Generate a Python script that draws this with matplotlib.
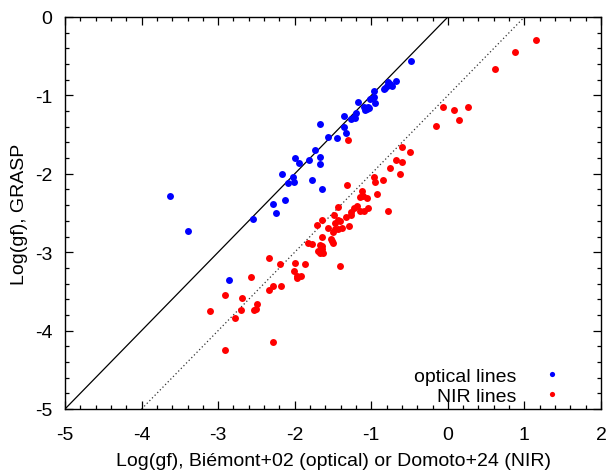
import matplotlib
matplotlib.use("Agg")
import matplotlib.pyplot as plt
from matplotlib.ticker import MultipleLocator

plt.rcParams['font.family'] = ['Liberation Sans', 'DejaVu Sans']
plt.rcParams['axes.unicode_minus'] = False

opt_x = [-0.485, -0.68, -0.78, -0.76, -0.80, -0.84, -0.73, -0.82, -0.97, -0.96,
         -1.02, -0.95, -1.18, -1.10, -1.06, -1.04, -1.08, -1.03, -1.20, -1.23,
         -1.26, -1.21, -1.36, -1.36, -1.33, -1.67, -1.57, -1.45, -1.73, -1.99,
         -1.94, -1.81, -1.67, -1.67, -2.16, -2.02, -2.09, -2.01, -1.77, -1.64,
         -2.28, -2.13, -2.25, -2.54, -3.63, -3.39, -2.86]
opt_y = [-0.56, -0.81, -0.83, -0.86, -0.88, -0.92, -0.88, -0.91, -0.95, -1.02,
         -1.04, -1.10, -1.08, -1.15, -1.17, -1.15, -1.18, -1.16, -1.22, -1.28,
         -1.30, -1.29, -1.26, -1.40, -1.48, -1.36, -1.53, -1.54, -1.70, -1.80,
         -1.86, -1.82, -1.79, -1.875, -2.00, -2.045, -2.12, -2.10, -2.075, -2.20,
         -2.38, -2.33, -2.50, -2.58, -2.28, -2.73, -3.35]

nir_x = [1.15, 0.88, 0.61, -0.06, 0.08, 0.26, 0.14, -0.155, -0.60, -0.49,
         -0.60, -0.68, -0.76, -0.625, -1.30, -0.96, -0.95, -0.85, -1.32, -1.12,
         -1.11, -1.06, -1.15, -0.92, -1.04, -0.78, -1.44, -1.23, -1.19, -1.15,
         -1.10, -1.26, -1.27, -1.33, -1.49, -1.44, -1.41, -1.47, -1.29, -1.38,
         -1.43, -1.50, -1.48, -1.64, -1.71, -1.56, -1.65, -1.53, -1.50, -1.51,
         -1.82, -1.77, -1.67, -1.64, -1.70, -1.63, -1.67, -1.65, -2.33, -2.19,
         -1.99, -1.86, -1.41, -2.01, -1.97, -1.92, -1.97, -2.57, -2.91, -2.69,
         -2.28, -2.18, -2.34, -2.49, -2.51, -2.53, -2.70, -3.10, -2.78, -2.29,
         -2.91]
nir_y = [-0.29, -0.45, -0.66, -1.15, -1.19, -1.15, -1.32, -1.39, -1.66, -1.72,
         -1.85, -1.82, -1.92, -2.00, -1.57, -2.045, -2.11, -2.075, -2.14, -2.215,
         -2.28, -2.31, -2.29, -2.26, -2.43, -2.47, -2.42, -2.44, -2.415, -2.47,
         -2.48, -2.49, -2.53, -2.555, -2.53, -2.59, -2.60, -2.63, -2.67, -2.695,
         -2.70, -2.74, -2.70, -2.585, -2.65, -2.695, -2.81, -2.83, -2.88, -2.86,
         -2.88, -2.90, -2.91, -2.92, -2.98, -3.01, -3.01, -2.96, -3.08, -3.15,
         -3.14, -3.155, -3.18, -3.24, -3.33, -3.30, -3.30, -3.31, -3.55, -3.58,
         -3.43, -3.43, -3.48, -3.66, -3.72, -3.74, -3.74, -3.75, -3.835, -4.14,
         -4.25]

line1_x = [-5, 2]
line1_y = [-5, 2]
line2_x = [-4, 2]
line2_y = [-5, 1]

fig = plt.figure(figsize=(6.09, 4.77), dpi=100)
ax = fig.add_axes([65/609, 1-410/477, (601-65)/609, (410-18)/477])

ax.plot(line1_x, line1_y, color='black', lw=0.9, zorder=1)
ax.plot(line2_x, line2_y, color='#333333', lw=0.9, ls=(0, (1, 2)), zorder=1)
ax.plot(opt_x, opt_y, 'o', color='#0000ff', ms=5.0, mew=0, label='optical lines', zorder=3)
ax.plot(nir_x, nir_y, 'o', color='#ff0000', ms=5.0, mew=0, label='NIR lines', zorder=3)

ax.set_xlim(-5, 2)
ax.set_ylim(-5, 0)
ax.xaxis.set_major_locator(MultipleLocator(1))
ax.xaxis.set_minor_locator(MultipleLocator(0.2))
ax.yaxis.set_major_locator(MultipleLocator(1))
ax.yaxis.set_minor_locator(MultipleLocator(0.2))
ax.tick_params(which='both', direction='in', top=True, right=True, labelsize=14, width=0.9)
ax.tick_params(which='major', length=6)
ax.tick_params(which='minor', length=3)
ax.tick_params(axis='x', pad=12)
ax.tick_params(axis='y', pad=9)
for s in ax.spines.values():
    s.set_linewidth(1.0)

ax.set_xlabel('Log(gf), Biémont+02 (optical) or Domoto+24 (NIR)', fontsize=14, labelpad=7)
ax.set_ylabel('Log(gf), GRASP', fontsize=14, labelpad=5)

leg = ax.legend(loc='lower right', frameon=False, markerfirst=False, fontsize=14,
                markerscale=0.75, handlelength=1.0, handletextpad=1.35,
                labelspacing=0.15, borderaxespad=0.0, borderpad=0.1,
                bbox_to_anchor=(0.931, 0.005))
for t in leg.get_texts():
    t.set_ha('right')

fig.savefig('out.png', dpi=100)
